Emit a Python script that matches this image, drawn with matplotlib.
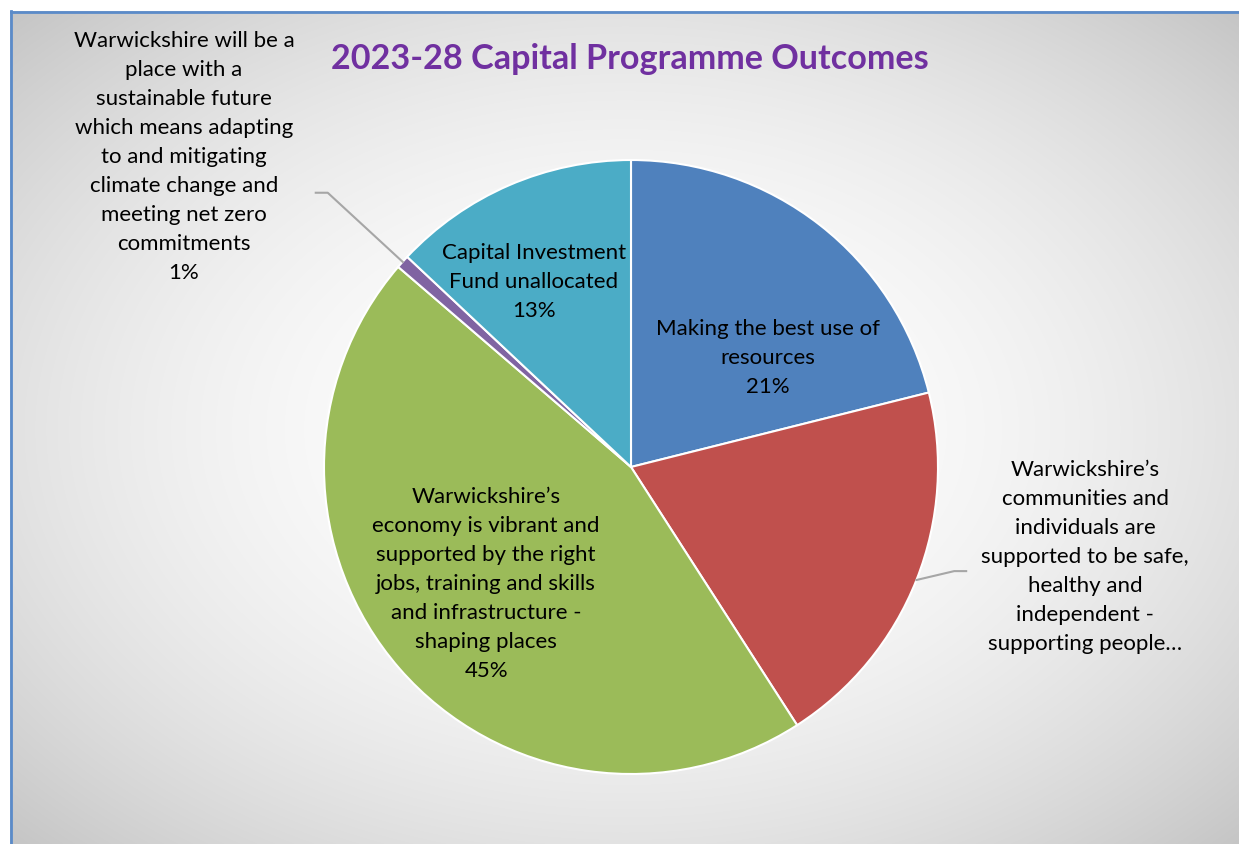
import numpy as np
import matplotlib.pyplot as plt

# slice data, clockwise from 12 o'clock
labels = [
    "Making the best use of\nresources\n21%",
    "Warwickshire\u2019s\ncommunities and\nindividuals are\nsupported to be safe,\nhealthy and\nindependent -\nsupporting people\u2026",
    "Warwickshire\u2019s\neconomy is vibrant and\nsupported by the right\njobs, training and skills\nand infrastructure -\nshaping places\n45%",
    "Warwickshire will be a\nplace with a\nsustainable future\nwhich means adapting\nto and mitigating\nclimate change and\nmeeting net zero\ncommitments\n1%",
    "Capital Investment\nFund unallocated\n13%",
]
values = [21.1, 19.8, 45.4, 0.7, 13.0]
colors = ["#4F81BD", "#C0504D", "#9BBB59", "#8064A2", "#4BACC6"]
title = "2023-28 Capital Programme Outcomes"

# label placement (axes units, pie radius = 1) and which labels sit outside with a leader
label_pos = [(0.446, 0.358), (1.479, -0.290), (-0.472, -0.378), (-1.456, 1.013), (-0.316, 0.606)]
outside = [False, True, False, True, False]

W, H = 1239, 845
fig = plt.figure(figsize=(W / 100, H / 100), dpi=100)
plt.rcParams['font.family'] = ['Lato', 'DejaVu Sans']

# background: white strip + radial grey gradient chart area
bg = fig.add_axes([0, 0, 1, 1])
bg.set_xlim(0, W)
bg.set_ylim(H, 0)
bg.axis('off')
yy, xx = np.mgrid[0:H, 0:W]
cx, cy, hw, hh = 625, 430, 615, 420
r2 = ((xx - cx) / hw) ** 2 + ((yy - cy) / hh) ** 2
shade = 1 - 0.115 * r2
img = np.dstack([shade, shade, shade])
img[:12, :, :] = 1
img[:, :10, :] = 1
bg.imshow(np.clip(img, 0, 1), extent=[0, W, H, 0], aspect='auto', interpolation='bilinear')
bg.plot([11, W], [12.5, 12.5], color="#5B8BC9", lw=2)
bg.plot([10.5, 10.5], [12, H], color="#5B8BC9", lw=2)

# pie axes: centre (631, 468) px, radius 307 px
pcx, pcy, R = 631, 468, 307
ax = fig.add_axes([(pcx - R) / W, (H - pcy - R) / H, 2 * R / W, 2 * R / H])
ax.set_xlim(-1, 1)
ax.set_ylim(-1, 1)
ax.axis('off')
wedges, _ = ax.pie(values, colors=colors, startangle=90, counterclock=False, radius=1,
                   wedgeprops=dict(edgecolor="white", linewidth=1.5))
ax.set_xlim(-1, 1)
ax.set_ylim(-1, 1)

for w, lab, (lx, ly), out in zip(wedges, labels, label_pos, outside):
    ax.text(lx, ly, lab, ha='center', va='center', fontsize=16, color='black',
            linespacing=1.56, clip_on=False)
    if out:
        mid = np.deg2rad((w.theta1 + w.theta2) / 2)
        x0, y0 = np.cos(mid), np.sin(mid)
        if x0 > 0:
            xs = [x0, x0 + 0.123, x0 + 0.162]
            ys = [y0, y0 + 0.029, y0 + 0.029]
        else:
            xs = [x0, x0 - 0.244, x0 - 0.283]
            ys = [y0, y0 + 0.225, y0 + 0.225]
        ax.plot(xs, ys, color="#A6A6A6", lw=1.5, clip_on=False)

fig.text(630 / W, 1 - 59 / H, title, ha='center', va='center', fontsize=24.6,
         fontweight='bold', color="#7030A0")

fig.savefig("out.png", dpi=100)
